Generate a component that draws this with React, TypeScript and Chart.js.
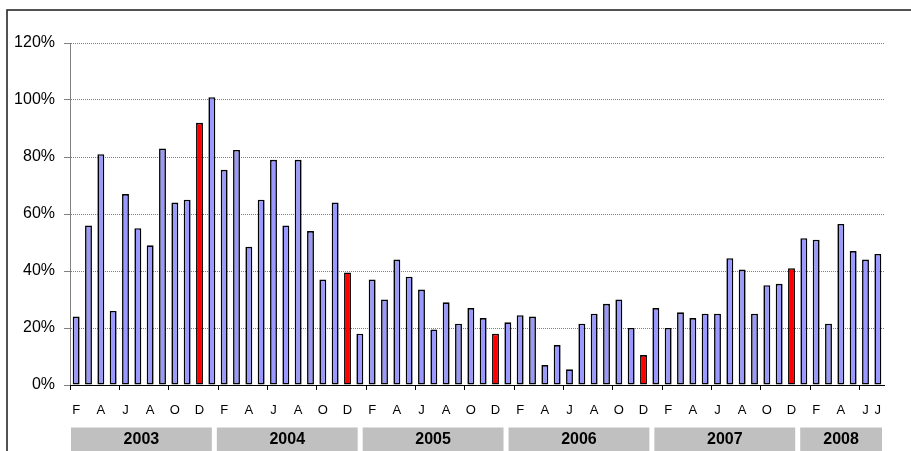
import React, { useEffect, useRef } from "react";
import { Chart, registerables } from "chart.js";

Chart.register(...registerables);

// Monthly values (%), Feb 2003 .. Jul 2008
const values2003 = [24, 56, 81, 26, 67, 55, 49, 83, 64, 65, 92];
const values2004 = [101, 75.5, 82.5, 48.5, 65, 79, 56, 79, 54, 37, 64, 39.5];
const values2005 = [18, 37, 30, 44, 38, 33.5, 19.5, 29, 21.5, 27, 23.5, 18];
const values2006 = [22, 24.5, 24, 7, 14, 5.5, 21.5, 25, 28.5, 30, 20, 10.5];
const values2007 = [27, 20, 25.5, 23.5, 25, 25, 44.5, 40.5, 25, 35, 35.5, 41];
const values2008 = [51.5, 51, 21.5, 56.5, 47, 44, 46];

// Month letters shown under the bars
const ticks2003 = ["F", "", "A", "", "J", "", "A", "", "O", "", "D"];
const ticksYear = ["", "F", "", "A", "", "J", "", "A", "", "O", "", "D"];
const ticks2008 = ["", "F", "", "A", "", "J", "J"];

// Calendar month index (0=Jan) of each bar, to colour December red
const months2003 = [1, 2, 3, 4, 5, 6, 7, 8, 9, 10, 11];
const monthsYear = [0, 1, 2, 3, 4, 5, 6, 7, 8, 9, 10, 11];
const months2008 = [0, 1, 2, 3, 4, 5, 6];

const years = ["2003", "2004", "2005", "2006", "2007", "2008"];
const yTicks = [0, 20, 40, 60, 80, 100, 120];

const values = [...values2003, ...values2004, ...values2005, ...values2006, ...values2007, ...values2008];
const labels = [...ticks2003, ...ticksYear, ...ticksYear, ...ticksYear, ...ticksYear, ...ticks2008];
const months = [...months2003, ...monthsYear, ...monthsYear, ...monthsYear, ...monthsYear, ...months2008];

const FONT = "'Liberation Sans', Arial, sans-serif";

const decorPlugin = {
  id: "decor",
  beforeDraw(chart: any) {
    const ctx = chart.ctx;
    ctx.save();
    ctx.fillStyle = "#ffffff";
    ctx.fillRect(0, 0, chart.width, chart.height);
    ctx.restore();
  },
  afterDraw(chart: any) {
    const ctx = chart.ctx;
    const x = chart.scales.x;
    const cat = (x.right - x.left) / values.length;
    const pitch = cat * 11.825;
    const boxTop = chart.chartArea.bottom + 42.5;
    ctx.save();
    years.forEach((yr, k) => {
      const left = x.left + 1 + k * pitch;
      const right = Math.min(left + pitch - 5, x.right - 2);
      ctx.fillStyle = "#c0c0c0";
      ctx.fillRect(left, boxTop, right - left, chart.height - boxTop + 2);
      ctx.fillStyle = "#000";
      ctx.font = `bold 16px ${FONT}`;
      ctx.textAlign = "center";
      ctx.textBaseline = "middle";
      ctx.fillText(yr, (left + right) / 2, boxTop + 12);
    });
    // outer frame
    ctx.strokeStyle = "#1a1a1a";
    ctx.lineWidth = 1.5;
    ctx.strokeRect(7, 10, chart.width + 20, chart.height + 20);
    ctx.restore();
  },
};

export default function App() {
  const ref = useRef<HTMLCanvasElement | null>(null);
  useEffect(() => {
    if (!ref.current) return;
    Chart.defaults.font.family = FONT;
    const chart = new Chart(ref.current, {
      type: "bar",
      data: {
        labels,
        datasets: [
          {
            data: values,
            backgroundColor: months.map((m) => (m === 11 ? "#ff0000" : "#9999ff")),
            borderColor: "#000000",
            borderWidth: 1.6,
            borderSkipped: false,
            barPercentage: 0.56,
            categoryPercentage: 1,
          },
        ],
      },
      options: {
        animation: false,
        responsive: true,
        maintainAspectRatio: false,
        layout: { padding: { left: 0, top: 43, right: 27, bottom: 0 } },
        plugins: { legend: { display: false }, tooltip: { enabled: false } },
        scales: {
          x: {
            offset: true,
            afterFit: (s: any) => {
              s.height = 66;
            },
            grid: {
              display: true,
              drawOnChartArea: false,
              drawTicks: true,
              tickLength: 5,
              offset: true,
              tickColor: (c: any) => (c.index % 4 === 0 ? "#000000" : "rgba(0,0,0,0)"),
            },
            border: { display: true, color: "#000000", width: 1, z: 1 },
            ticks: {
              autoSkip: false,
              maxRotation: 0,
              minRotation: 0,
              padding: 13,
              color: "#000000",
              font: { size: 13, family: FONT },
            },
          },
          y: {
            min: 0,
            max: 120,
            afterFit: (s: any) => {
              s.width = 70;
            },
            afterBuildTicks: (s: any) => {
              s.ticks = yTicks.map((v) => ({ value: v }));
            },
            grid: {
              color: "#808080",
              lineWidth: 1,
              tickLength: 6,
              tickColor: "#808080",
            },
            border: { display: true, color: "#808080", width: 1, dash: [1, 1] },
            ticks: {
              padding: 9,
              color: "#000000",
              font: { size: 16, family: FONT },
              callback: (v: any) => `${v}%`,
            },
          },
        },
      },
      plugins: [decorPlugin],
    });
    return () => chart.destroy();
  }, []);
  return (
    <div style={{ position: "fixed", left: 0, top: 0, width: 911, height: 451, background: "#fff" }}>
      <canvas ref={ref} />
    </div>
  );
}
